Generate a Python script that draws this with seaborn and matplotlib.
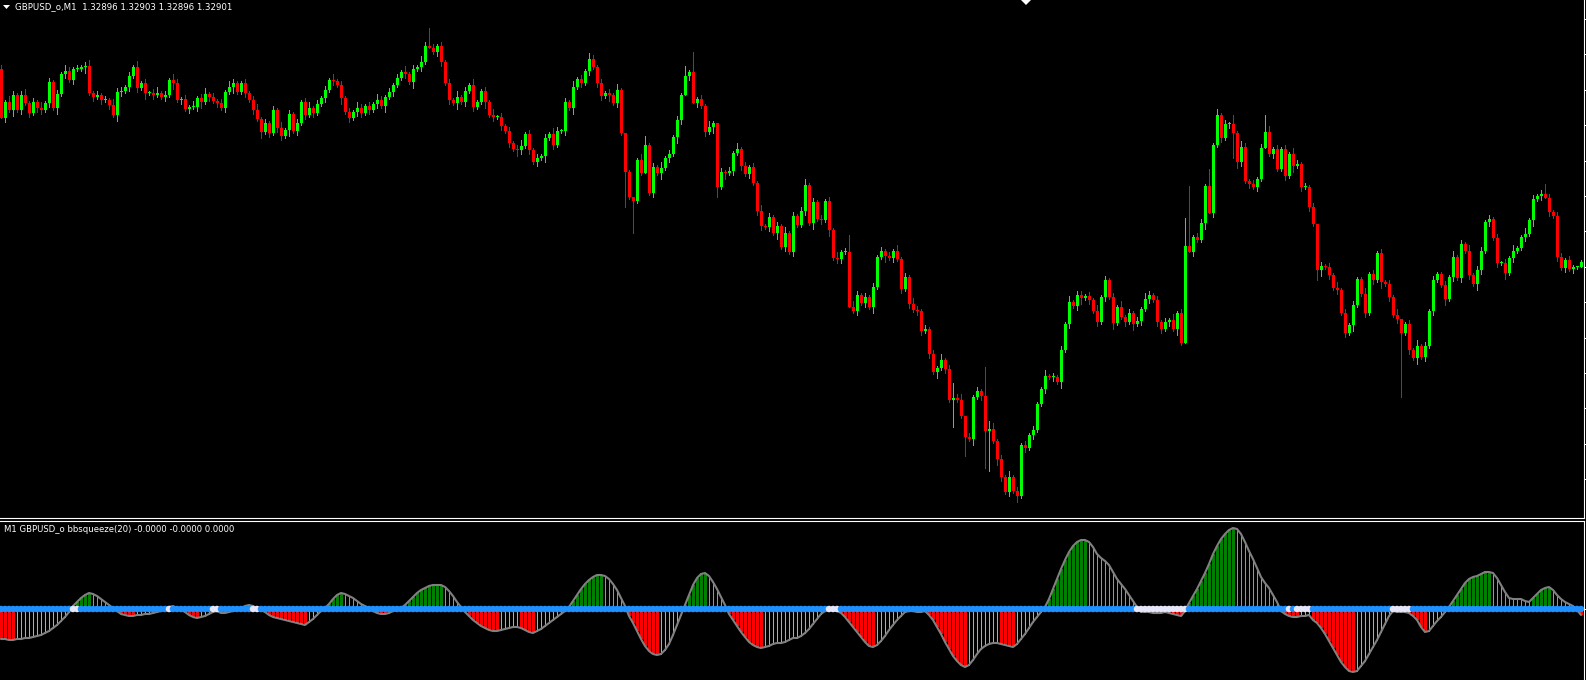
import numpy as np
import pandas as pd
import matplotlib
matplotlib.use("Agg")
import matplotlib.pyplot as plt
import seaborn as sns
from matplotlib.patches import Polygon

# Котирування GBPUSD M1: відстань ціни від рівня 1.33163 у пунктах (1 пункт = 0.00001)
REF_PRICE = 1.33163
first_open = 69
close_pts = [
    118, 102, 110, 95, 110, 95, 103, 113, 102, 108,
    110, 103, 82, 108, 94, 74, 71, 80, 69, 69,
    67, 66, 93, 97, 95, 100, 100, 105, 115, 92,
    91, 87, 76, 67, 88, 83, 93, 93, 95, 93,
    97, 95, 80, 83, 100, 99, 109, 107, 107, 98,
    102, 94, 97, 101, 103, 108, 92, 87, 83, 92,
    83, 93, 100, 110, 119, 132,
    123, 133, 110, 128, 136, 130, 114, 131, 123, 102,
    115, 108, 113, 104, 98, 90, 80, 81, 85, 98,
    112, 118, 112, 108, 113, 106, 110, 104, 100, 106,
    97, 92, 85, 78,
    72, 74, 82, 69, 67, 62, 46, 48, 52, 46,
    62, 83, 100, 103, 97, 102, 91, 85, 107, 102,
    91, 102, 115, 117, 117, 126, 131, 143, 149, 150,
    146, 134, 150, 162, 158, 156, 138, 134, 145, 131,
    131, 102, 108, 87, 79, 83, 71, 59, 67, 83,
    96, 93, 95, 103, 90, 133,
    172, 197, 201, 160, 173, 145, 193, 167, 173, 168,
    158, 154, 137, 120, 95, 76, 72, 103, 99, 106,
    132, 127, 123, 187, 172, 173, 171, 153, 149, 166,
    174, 167, 183, 211, 226, 227, 217, 233, 226, 247,
    233, 252, 216, 225, 211, 185, 223, 202, 219, 220,
    201, 230, 258, 259, 252, 252, 307, 311, 295, 303,
    297, 307, 287, 257, 251, 256, 258, 251, 259, 289,
    277, 304, 310, 311, 331, 329, 354, 372, 368, 360,
    369, 400, 398, 400, 416, 437, 439, 397, 391, 396,
    431, 429, 441, 459, 477, 492, 477, 491, 496, 445,
    448, 435, 430, 404, 389, 376, 377, 377, 382, 350,
    324, 302, 306, 295, 298, 296, 300, 311, 322, 297,
    280, 297, 323, 307, 317, 322, 313, 324, 321, 309,
    299, 295, 300, 322, 329, 322, 320, 329, 313, 343,
    246, 252, 237, 240, 223, 186, 213, 145, 115, 138,
    124, 124, 133, 162, 147, 181, 184, 187, 179, 148,
    132, 154, 149, 169, 149, 176, 154, 166, 164, 187,
    187, 207, 224, 270, 266, 267, 275, 288, 290, 313,
    333, 325, 305, 279, 294, 313, 274, 280, 253, 282,
    284, 297, 315, 319, 333, 324, 350, 358, 346, 357,
    346, 311, 280, 274, 285, 299, 277, 257, 278, 244,
    251, 275, 284, 270, 251, 222, 219, 238, 263, 263,
    273, 258, 251, 248, 237, 234, 220, 199, 196, 194,
    198, 212, 216, 257, 268, 260, 269, 267, 267, 262,
]

# тіні свічок: одна цифра на свічку, цифра * 2 пункти
upper_wick = "".join([
    "2132123121", "3121213212", "1231212132", "2121312123", "1213212131",
    "2312121321", "1212312121", "3121212312", "1213121213", "2121321212",
    "1312132121", "2121312131", "1213121212", "3121212132", "1213121321",
    "2121312121", "3212131212", "1213121312", "2121312121", "3121213121",
    "2312121213", "1213212121", "2121312132", "1212131212", "3121212131",
    "2131212121", "1312121312", "2121312121", "3121213212", "1213121212",
    "2121312121", "3212121312", "1213212121", "2121312121", "1312121213",
    "2121312121", "1213121312", "2121212131", "1312121212", "212101",
])
lower_wick = "".join([
    "1213121212", "2121312121", "1312121213", "2121213121", "1213121212",
    "3121212131", "1212131212", "2131212121", "1212131212", "2121213121",
    "1213121212", "2121312121", "1312121213", "2121213121", "1213121212",
    "2131212121", "1212131213", "2121212131", "1312121212", "2121312121",
    "1213121312", "2121212131", "1312121212", "2121312121", "1213121213",
    "2121312121", "1212131212", "3121212131", "1213121212", "2121312121",
    "1312121213", "2121213121", "1213121212", "3121212131", "1212131212",
    "2121312121", "1312121213", "2121213121", "1213121212", "121210",
])
# довгі тіні (верхня, нижня) у пунктах
long_wicks = {
    0: (4, 0), 107: (18, 0), 156: (0, 35), 158: (0, 32), 161: (9, 0),
    171: (10, 0), 173: (20, 0), 179: (0, 10), 212: (17, 0), 238: (15, 27),
    241: (0, 19), 246: (29, 37), 247: (8, 40), 296: (28, 0), 297: (60, 0),
    302: (17, 0), 308: (9, 25), 316: (17, 0), 329: (0, 10), 350: (0, 64),
    386: (10, 0),
}

# bbsqueeze(20): значення гістограми (одиниці 0.00001)
squeeze_vals = [
    -30, -30, -31, -31, -30, -30, -29, -29, -28, -27, -26, -24, -22, -19, -16, -12, -8, -3,
    3, 7, 11, 14, 16, 15, 13, 10, 7, 4, 1,
    -2, -5, -6, -7, -7, -6, -6, -5, -5, -4, -3, -2,
    -1, 2, 3, 1, -1,
    -3, -6, -8, -9, -8, -7, -5, -3,
    -2, -4, -4, -3, -2,
    -1, 1, 3, 4, 3, 1, -1,
    -3, -6, -8, -9, -10, -11, -12, -13, -14, -15, -16, -13, -10, -6, -2,
    1, 5, 10, 14, 16, 15, 13, 11, 8, 5, 3, 1,
    -2, -4, -5, -5, -4, -2, -1,
    1, 4, 8, 12, 16, 19, 21, 23, 24, 24, 24, 22, 18, 13, 7, 2,
    -3, -7, -11, -14, -17, -19, -21, -22, -22, -21, -20, -19, -18, -18, -19, -21, -23, -24,
    -22, -20, -17, -14, -11, -8, -5, -2,
    2, 8, 14, 20, 25, 29, 32, 34, 34, 33, 30, 25, 19, 11, 3,
    -7, -14, -22, -30, -37, -42, -45, -46, -45, -41, -35, -26, -16, -6,
    4, 14, 24, 31, 35, 36, 33, 27, 20, 12, 4,
    -5, -11, -17, -23, -28, -33, -36, -38, -39, -38, -37, -35, -34, -34, -33, -31, -29, -29,
    -27, -24, -20, -15, -10, -5, -2,
    -1, -1, -2,
    -4, -8, -13, -18, -23, -28, -33, -37, -38, -36, -32, -27, -21, -16, -11, -7, -3,
    -2, -2, -3, -3, -2,
    -6, -11, -18, -25, -33, -40, -47, -52, -56, -58, -56, -51, -45, -40, -37, -35, -34, -34,
    -35, -36, -37, -38, -35, -30, -25, -19, -13, -8, -3,
    2, 10, 20, 30, 40, 49, 57, 63, 67, 69, 69, 67, 62, 55, 51, 48, 44, 37, 30, 25, 20, 14, 8, 2,
    -3, -3, -3, -4, -4, -4, -3, -4, -5, -6, -7, -2,
    6, 13, 20, 28, 36, 45, 55, 63, 70, 75, 79, 81, 80, 75, 67, 58, 50, 41, 32, 26, 21, 14, 7,
    -2, -5, -7, -8, -8, -7, -7, -6,
    -11, -14, -19, -25, -32, -39, -46, -53, -58, -62, -63, -62, -57, -52, -45, -38, -31, -23,
    -15, -7,
    -2, -3, -3, -3, -4,
    -7, -11, -18, -23, -22, -17, -12, -8, -3,
    2, 8, 14, 20, 26, 30, 32, 33, 35, 37, 37, 36, 31, 24, 17, 11, 10, 10, 10, 8, 7, 11, 15,
    19, 21, 22, 19, 14, 10, 7, 5, 3, -1, -6,
]
# свічки, де діє "стиснення" (світлі точки на нульовій лінії)
squeeze_on = [18, 19, 42, 53, 54, 63, 64, 207, 208, 209,
              284, 285, 286, 287, 288, 289, 290, 291, 292, 293, 294, 295, 296,
              322, 324, 325, 326, 327, 348, 349, 350, 351, 352]

title_text = "GBPUSD_o,M1  1.32896 1.32903 1.32896 1.32901"
ind_text = "M1 GBPUSD_o bbsqueeze(20) -0.0000 -0.0000 0.0000"

n = min(len(close_pts), len(upper_wick), len(lower_wick), len(squeeze_vals))

# Побудова OHLC
open_pts = [first_open] + close_pts[:-1]
rows = []
for i in range(n):
    o, c = open_pts[i], close_pts[i]
    up, dn = int(upper_wick[i]) * 2, int(lower_wick[i]) * 2
    if i in long_wicks:
        up, dn = long_wicks[i]
    rows.append({
        "idx": i,
        "open": REF_PRICE - o * 1e-5,
        "close": REF_PRICE - c * 1e-5,
        "high": REF_PRICE - (min(o, c) - up) * 1e-5,
        "low": REF_PRICE - (max(o, c) + dn) * 1e-5,
    })
df = pd.DataFrame(rows)
df["bull"] = df["close"] >= df["open"]

# кольори гістограми: росте/падає вище та нижче нуля
vals = np.array(squeeze_vals[:n])
hist_colors = []
prev_col = "#FF0000"
for i, v in enumerate(vals):
    prev = vals[i - 1] if i > 0 else v
    if v > 0:
        col = "#008000" if v > prev else ("#00FF00" if v < prev else prev_col)
        if col in ("#FF0000", "#FFA500"):
            col = "#008000"
    else:
        col = "#FF0000" if v < prev else ("#FFA500" if v > prev else prev_col)
        if col in ("#008000", "#00FF00"):
            col = "#FF0000"
    hist_colors.append(col)
    prev_col = col
hist_colors = np.array(hist_colors)

sns.set_style("dark", {"axes.facecolor": "black", "figure.facecolor": "black"})
plt.rcParams["font.family"] = ["DejaVu Sans"]

W, H = 1586, 680
fig = plt.figure(figsize=(W / 100, H / 100), dpi=100)
fig.patch.set_facecolor("black")
ax = fig.add_axes([0, (H - 518) / H, 1584 / W, 518 / H])
ax2 = fig.add_axes([0, 0, 1584 / W, (H - 521) / H])

# свічки
x = df["idx"].values
candle_colors = np.where(df["bull"], "#00FF00", "#FF0000")
ax.vlines(x, df["low"], df["high"], colors=candle_colors, lw=0.6, antialiased=False)
body_bottom = np.minimum(df["open"], df["close"])
body_height = np.maximum(np.abs(df["close"] - df["open"]), 1.2e-5)
ax.bar(x, body_height, bottom=body_bottom, width=0.75, color=candle_colors,
       linewidth=0, antialiased=False)
ax.set_xlim(-0.25, n - 0.25)
ax.set_ylim(REF_PRICE - 518e-5, REF_PRICE)

# індикатор: темно-зелені та червоні стовпці широкі, салатові та помаранчеві тонкі
strong = np.isin(hist_colors, ["#008000", "#FF0000"])
ax2.bar(x[strong], vals[strong], width=0.75, color=hist_colors[strong],
        linewidth=0, antialiased=False)
ax2.vlines(x[~strong], 0, vals[~strong], colors=hist_colors[~strong], lw=0.6,
           antialiased=False)
sns.lineplot(x=x, y=vals, color="#808080", lw=1.5, ax=ax2, zorder=3)
dot_colors = ["#E6E6FA" if i in squeeze_on else "#1E90FF" for i in range(n)]
ax2.scatter(x, np.zeros(n), s=22, c=dot_colors, linewidths=0, zorder=5)
ax2.set_xlim(-0.25, n - 0.25)
ax2.set_ylim(-71, 88)

for a in (ax, ax2):
    a.grid(False)
    a.set_facecolor("black")
    a.set_xticks([])
    a.set_xlabel("")
    a.set_ylabel("")
    for s in a.spines.values():
        s.set_visible(False)
    a.spines["right"].set_visible(True)
    a.spines["right"].set_color("white")
    a.spines["right"].set_linewidth(0.8)
    a.yaxis.tick_right()
    a.tick_params(axis="y", colors="white", length=2.5, width=0.75,
                  direction="out", labelright=False, labelleft=False)
ax.spines["bottom"].set_visible(True)
ax.spines["bottom"].set_color("white")
ax.spines["bottom"].set_linewidth(0.8)
ax2.spines["top"].set_visible(True)
ax2.spines["top"].set_color("white")
ax2.spines["top"].set_linewidth(0.8)
ax.set_yticks(REF_PRICE - 0.00019 - 0.000354 * np.arange(14))
ax2.set_yticks([0])


def fpx(px, py):
    return px / W, 1 - py / H


fig.text(*fpx(15, 7), title_text, color="white", fontsize=6.2, va="center", ha="left")
fig.text(*fpx(4, 529), ind_text, color="white", fontsize=6.1, va="center", ha="left")
fig.add_artist(Polygon([fpx(3, 5), fpx(10, 5), fpx(6.5, 9)], closed=True,
                       transform=fig.transFigure, color="white", lw=0))
fig.add_artist(Polygon([fpx(1021, 0), fpx(1031, 0), fpx(1026, 5)], closed=True,
                       transform=fig.transFigure, color="white", lw=0))

fig.savefig("out.png", dpi=100, facecolor="black")
